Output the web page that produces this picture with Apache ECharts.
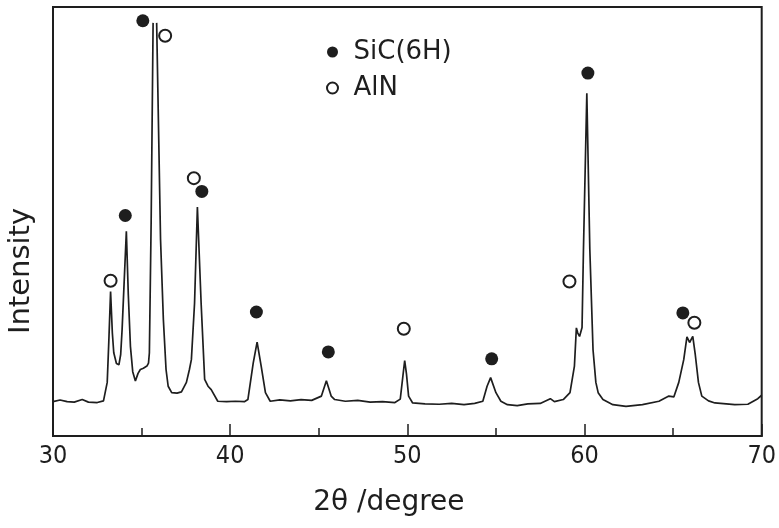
<!DOCTYPE html>
<html>
<head>
<meta charset="utf-8">
<title>XRD SiC(6H) / AlN</title>
<script src="https://cdn.jsdelivr.net/npm/echarts@6/dist/echarts.min.js"></script>
<style>
  html, body { margin: 0; padding: 0; background: #fff; }
  #main { width: 779px; height: 528px; }
</style>
</head>
<body>
<div id="main"></div>
<script>
// 2θ (degree) and intensity (arbitrary units, 0-100 of the frame height)
var twoTheta = [
  30.0, 30.4, 30.8, 31.2, 31.65, 32.0, 32.5, 32.85, 33.06, 33.15, 33.25, 33.35, 33.43, 33.58, 33.72,
  33.82, 33.9, 34.14, 34.25, 34.37, 34.5, 34.65, 34.8, 34.93, 35.1, 35.3, 35.39, 35.44, 35.54, 35.65,
  35.75, 35.85, 36.07, 36.23, 36.38, 36.5, 36.7, 37.0, 37.25, 37.53, 37.7, 37.81, 37.99, 38.15, 38.36,
  38.56, 38.75, 38.93, 39.3, 39.8, 40.3, 40.8, 41.0, 41.3, 41.52, 41.75, 41.99, 42.26, 42.8, 43.4,
  44.0, 44.6, 45.15, 45.43, 45.7, 45.9, 46.5, 47.2, 47.9, 48.6, 49.3, 49.6, 49.75, 49.85, 49.95,
  50.07, 50.3, 51.0, 51.8, 52.5, 53.2, 53.8, 54.26, 54.5, 54.7, 55.0, 55.28, 55.65, 56.2, 56.8,
  57.5, 58.07, 58.3, 58.8, 59.18, 59.43, 59.54, 59.62, 59.72, 59.86, 59.94, 60.13, 60.3, 60.48, 60.64,
  60.77, 61.04, 61.6, 62.34, 63.27, 64.2, 64.76, 65.04, 65.32, 65.6, 65.78, 65.93, 66.11, 66.25, 66.43,
  66.62, 67.0, 67.36, 68.48, 69.22, 69.78, 70.0
];
var intensity = [
  8.0, 8.4, 8.0, 7.9, 8.5, 7.9, 7.8, 8.2, 12.5, 22, 33.7, 24, 19.4, 16.9, 16.6,
  19, 24.8, 47.7, 33, 20.9, 15, 12.8, 14.6, 15.5, 15.8, 16.3, 17.0, 19.4, 50, 96.3,
  '-', 96.3, 45.8, 27.1, 15.5, 11.6, 10.1, 10.0, 10.3, 12.5, 15.5, 17.8, 31.0, 53.4, 31.0,
  13.2, 11.6, 10.8, 8.1, 8.0, 8.1, 8.0, 8.5, 17.0, 21.9, 16.3, 10.1, 8.1, 8.4, 8.2,
  8.5, 8.3, 9.3, 12.9, 9.3, 8.5, 8.1, 8.3, 7.9, 8.0, 7.8, 8.6, 14, 17.6, 14.5,
  9.3, 7.7, 7.5, 7.4, 7.6, 7.3, 7.6, 8.1, 11.6, 13.6, 10.1, 8.1, 7.3, 7.1, 7.5,
  7.6, 8.7, 8.0, 8.5, 10.1, 16.3, 25.2, 24.0, 23.2, 25.3, 43.4, 79.9, 43.4, 20.1, 12.5,
  10.1, 8.5, 7.3, 6.9, 7.3, 8.1, 9.3, 9.1, 12.5, 17.8, 23.1, 21.8, 23.2, 19, 12.5,
  9.3, 8.2, 7.7, 7.3, 7.4, 8.7, 9.5
];

// peak markers
var sicTheta = [34.08, 35.07, 38.4, 41.48, 45.54, 54.76, 60.19, 65.55];
var sicY = [51.4, 96.8, 57.0, 28.9, 19.6, 18.0, 84.6, 28.7];
var alnTheta = [33.25, 36.33, 37.95, 49.8, 59.15, 66.2];
var alnY = [36.2, 93.3, 60.1, 25.0, 36.0, 26.4];

var xMin = 30, xMax = 70, xStep = 10;

var ink = '#1e1e1e';
var myChart = echarts.init(document.getElementById('main'));

var pattern = twoTheta.map(function (t, i) { return [t, intensity[i]]; });
var sicData = sicTheta.map(function (t, i) { return [t, sicY[i]]; });
var alnData = alnTheta.map(function (t, i) { return [t, alnY[i]]; });

var option = {
  animation: false,
  backgroundColor: '#fff',
  grid: {
    left: 53,
    right: 10,
    top: 7,
    bottom: 92,
    show: true,
    borderColor: ink,
    borderWidth: 2
  },
  legend: {
    orient: 'vertical',
    left: 321,
    top: 34,
    itemWidth: 32,
    itemHeight: 11,
    itemGap: 10,
    data: ['SiC(6H)', 'AlN'],
    textStyle: {
      fontFamily: 'DejaVu Sans',
      fontSize: 26,
      lineHeight: 25,
      color: ink
    }
  },
  xAxis: {
    type: 'value',
    min: xMin,
    max: xMax,
    interval: xStep,
    name: '2θ /degree',
    nameLocation: 'middle',
    nameGap: 53,
    nameTextStyle: {
      fontFamily: 'DejaVu Sans',
      fontSize: 28,
      color: ink,
      padding: [0, 37, 0, 0]
    },
    axisLine: { show: true, lineStyle: { color: ink, width: 2 } },
    axisTick: { show: true, inside: true, length: 12, lineStyle: { color: ink, width: 1.5 } },
    minorTick: { show: true, splitNumber: 2, length: 8, lineStyle: { color: ink, width: 1.5 } },
    axisLabel: {
      margin: 8,
      fontFamily: 'DejaVu Sans Condensed, Liberation Sans Narrow, DejaVu Sans',
      fontSize: 25,
      color: ink
    },
    splitLine: { show: false }
  },
  yAxis: {
    type: 'value',
    min: 0,
    max: 100,
    axisLine: { show: true, lineStyle: { color: ink, width: 2 } },
    axisTick: { show: false },
    axisLabel: { show: false },
    splitLine: { show: false }
  },
  graphic: [
    {
      type: 'text',
      x: 21,
      y: 271,
      rotation: Math.PI / 2,
      style: {
        text: 'Intensity',
        fontFamily: 'DejaVu Sans',
        fontSize: 29,
        fill: ink,
        align: 'center',
        verticalAlign: 'middle'
      }
    }
  ],
  series: [
    {
      name: 'pattern',
      type: 'line',
      data: pattern,
      showSymbol: false,
      connectNulls: false,
      lineStyle: { color: ink, width: 1.7 },
      z: 2
    },
    {
      name: 'SiC(6H)',
      type: 'scatter',
      data: sicData,
      symbol: 'circle',
      symbolSize: 13,
      itemStyle: { color: ink, opacity: 1 },
      z: 3
    },
    {
      name: 'AlN',
      type: 'scatter',
      data: alnData,
      symbol: 'circle',
      symbolSize: 12,
      itemStyle: { color: '#fff', borderColor: ink, borderWidth: 2, opacity: 1 },
      z: 3
    }
  ]
};

myChart.setOption(option);
</script>
</body>
</html>
